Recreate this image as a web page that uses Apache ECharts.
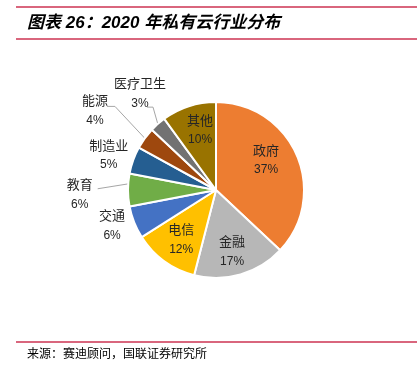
<!DOCTYPE html>
<html>
<head>
<meta charset="utf-8">
<script src="https://cdn.jsdelivr.net/npm/echarts@6/dist/echarts.min.js"></script>
<style>
html,body{margin:0;padding:0;background:#fff;}
#c{width:417px;height:373px;}
</style>
</head>
<body>
<div id="c"></div>
<script>
const categories = ['政府','金融','电信','交通','教育','制造业','能源','医疗卫生','其他'];
const values = [37,17,12,6,6,5,4,3,10];
const titleText = '图表 26：2020 年私有云行业分布';
const sourceText = '来源：赛迪顾问，国联证券研究所';

const colors = ['#ED7D31','#B7B7B7','#FFC000','#4472C4','#70AD47','#255E91','#9E480E','#727272','#997300'];
// label placement: [radius factor, angle adjustment in degrees]
const labelPlace = [[0.66,-7],[0.73,1.7],[0.69,-1],[1.25,2.5],[1.55,-2],[1.28,-2],[1.64,-3],[1.39,3],[0.70,3]];
// leader lines: offsets from label centre for start and elbow, and end angle adjustment
const leader = {4:{s:[18,-6],e:[18,-6],a:4}, 6:{s:[12,-5],e:[20,-5],a:0}, 7:{s:[7,13],e:[13,13],a:0}};

const CX = 216, CY = 190, R = 88;
const total = values.reduce((a,b)=>a+b,0);
const mids = [];
let acc = 0;
values.forEach(v => { mids.push((acc + v/2) / total * 360); acc += v; });

const chart = echarts.init(document.getElementById('c'));
const font = '"Liberation Sans","Noto Sans CJK SC",sans-serif';
const lineColor = '#CC3352';

chart.setOption({
  backgroundColor: '#fff',
  animation: false,
  graphic: [
    {type:'line', shape:{x1:16,y1:7,x2:417,y2:7}, style:{stroke:lineColor,lineWidth:1.3}},
    {type:'line', shape:{x1:16,y1:39,x2:417,y2:39}, style:{stroke:lineColor,lineWidth:1.3}},
    {type:'line', shape:{x1:16,y1:342,x2:417,y2:342}, style:{stroke:lineColor,lineWidth:1.3}},
    {type:'text', left:27, top:15, style:{text:titleText, font:'italic bold 17px ' + font, fill:'#000'}},
    {type:'text', left:27, top:349, style:{text:sourceText, font:'12px ' + font, fill:'#000'}}
  ],
  series: [{
    type:'pie',
    center:[CX, CY],
    radius:R,
    startAngle:90,
    clockwise:true,
    color: colors,
    itemStyle:{borderColor:'#fff', borderWidth:2},
    label:{
      show:true,
      position:'inside',
      formatter:'{n|{b}}\n{v|{c}%}',
      color:'#262626',
      fontFamily:font,
      rich:{
        n:{fontSize:13, lineHeight:19, color:'#262626', fontFamily:font, align:'center'},
        v:{fontSize:12, lineHeight:19, color:'#262626', fontFamily:font, align:'center'}
      }
    },
    labelLine:{show:false},
    data: categories.map((n,i)=>{
      const d = {name:n, value:values[i]};
      if (leader[i]) {
        d.label = {position:'outside'};
        d.labelLine = {show:true, lineStyle:{color:'#A6A6A6', width:1}};
      } else if (labelPlace[i][0] > 1) {
        d.label = {position:'outside'};
        d.labelLine = {show:false};
      }
      return d;
    }),
    labelLayout: function (p) {
      const i = p.dataIndex;
      const pl = labelPlace[i];
      const th = (mids[i] + pl[1]) * Math.PI / 180;
      const x = CX + R * pl[0] * Math.sin(th);
      const y = CY - R * pl[0] * Math.cos(th);
      const res = {x:x, y:y, align:'center', verticalAlign:'middle'};
      if (leader[i]) {
        const L = leader[i];
        const te = (mids[i] + L.a) * Math.PI / 180;
        res.labelLinePoints = [
          [x + L.s[0], y + L.s[1]],
          [x + L.e[0], y + L.e[1]],
          [CX + R * Math.sin(te), CY - R * Math.cos(te)]
        ];
      }
      return res;
    }
  }]
});
</script>
</body>
</html>
